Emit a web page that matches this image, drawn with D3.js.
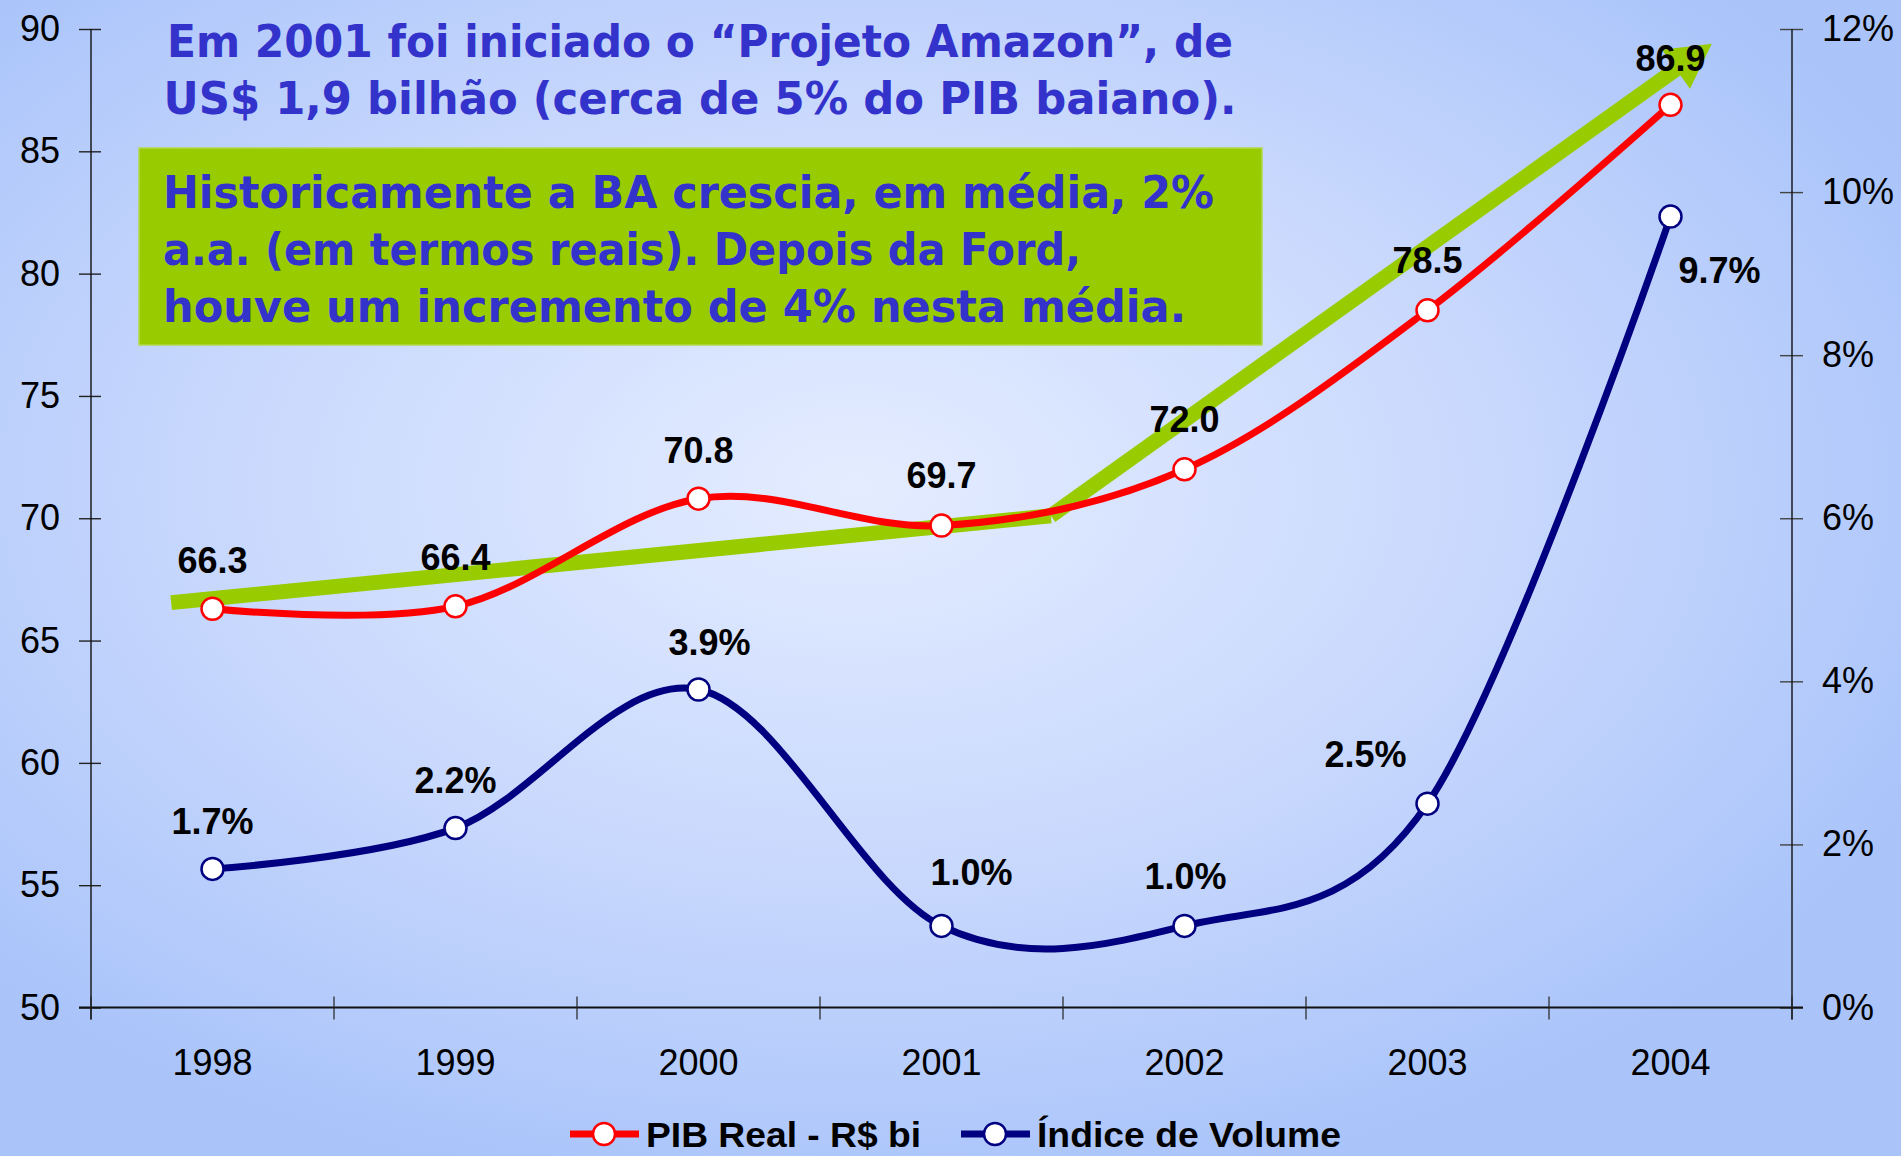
<!DOCTYPE html>
<html>
<head>
<meta charset="utf-8">
<script src="https://cdn.jsdelivr.net/npm/d3@7"></script>
<style>
  html, body { margin: 0; padding: 0; overflow: hidden; }
  svg { display: block; }
</style>
</head>
<body>
<script>
// ---------------- DATA ----------------
const years = ["1998", "1999", "2000", "2001", "2002", "2003", "2004"];
const pibValues = [66.3, 66.4, 70.8, 69.7, 72.0, 78.5, 86.9];          // R$ bi (left axis)
const volumeValues = [1.7, 2.2, 3.9, 1.0, 1.0, 2.5, 9.7];               // % (right axis)
const pibLabels = ["66.3", "66.4", "70.8", "69.7", "72.0", "78.5", "86.9"];
const volumeLabels = ["1.7%", "2.2%", "3.9%", "1.0%", "1.0%", "2.5%", "9.7%"];
const leftTicks = [50, 55, 60, 65, 70, 75, 80, 85, 90];
const rightTicks = [0, 2, 4, 6, 8, 10, 12];
const rightTickLabels = ["0%", "2%", "4%", "6%", "8%", "10%", "12%"];
const seriesNames = ["PIB Real - R$ bi", "Índice de Volume"];
// trend arrow (category index, left-axis value)
const trendIndex = [-0.17, 3.45, 6.17];
const trendValue = [66.55, 70.1, 89.4];
const titleLines = ["Em 2001 foi iniciado o “Projeto Amazon”, de",
                    "US$ 1,9 bilhão (cerca de 5% do PIB baiano)."];
const boxLines = ["Historicamente a BA crescia, em média, 2%",
                  "a.a. (em termos reais). Depois da Ford,",
                  "houve um incremento de 4% nesta média."];

// ---------------- LAYOUT ----------------
const W = 1901, H = 1156;
const X0 = 91, X1 = 1792, Y0 = 1007.5, Y1 = 29;
// label offsets (text centre relative to marker)
const pibLabelOffsets = [[0,-49],[0,-49],[0,-49],[0,-51],[0,-50],[0,-50],[0,-47]];
const volLabelOffsets = [[0,-48],[0,-48],[11,-47],[30,-54],[1,-50],[-62,-50],[49,53]];

const svg = d3.select("body").append("svg").attr("width", W).attr("height", H);

const defs = svg.append("defs");
const grad = defs.append("radialGradient").attr("id", "bg")
  .attr("cx", "45%").attr("cy", "42%").attr("r", "62%");
grad.append("stop").attr("offset", "0").attr("stop-color", "#E4ECFF");
grad.append("stop").attr("offset", "0.55").attr("stop-color", "#C8D8FD");
grad.append("stop").attr("offset", "1").attr("stop-color", "#AAC4FA");
svg.append("rect").attr("width", W).attr("height", H).attr("fill", "url(#bg)");

// scales
const x = d3.scaleBand().domain(years).range([X0, X1]).padding(0);
const xc = d => x(d) + x.bandwidth() / 2;
const xi = d3.scaleLinear().domain([-0.5, years.length - 0.5]).range([X0, X1]);
const yL = d3.scaleLinear().domain([50, 90]).range([Y0, Y1]);
const yR = d3.scaleLinear().domain([0, 12]).range([Y0, Y1]);

const axisFont = "'Liberation Sans', Arial, sans-serif";

// ---- left axis
const gL = svg.append("g").attr("transform", `translate(${X0},0)`)
  .call(d3.axisLeft(yL).tickValues(leftTicks).tickSize(12).tickSizeOuter(0).tickPadding(18));
gL.select(".domain").remove();
gL.selectAll(".tick line").attr("x1", -12).attr("x2", 10).attr("stroke", "#222").attr("stroke-width", 1.4);
gL.selectAll(".tick text").attr("x", -31).attr("font-family", axisFont).attr("font-size", 36).attr("fill", "#000");
svg.append("line").attr("x1", X0).attr("x2", X0).attr("y1", Y1).attr("y2", Y0 + 12)
  .attr("stroke", "#111").attr("stroke-width", 1.4);

// ---- right axis
const gR = svg.append("g").attr("transform", `translate(${X1},0)`)
  .call(d3.axisRight(yR).tickValues(rightTicks).tickFormat((d, i) => rightTickLabels[i]).tickSize(12).tickSizeOuter(0));
gR.select(".domain").remove();
gR.selectAll(".tick line").attr("x1", -12).attr("x2", 11).attr("stroke", "#444").attr("stroke-width", 1.4);
gR.selectAll(".tick text").attr("x", 30).attr("font-family", axisFont).attr("font-size", 36).attr("fill", "#000");
svg.append("line").attr("x1", X1).attr("x2", X1).attr("y1", Y1).attr("y2", Y0 + 12)
  .attr("stroke", "#111").attr("stroke-width", 1.4);

// ---- x axis
const gX = svg.append("g").attr("transform", `translate(0,${Y0})`)
  .call(d3.axisBottom(x).tickSize(0).tickPadding(0));
gX.select(".domain").remove();
gX.selectAll(".tick text").attr("y", 67).attr("dy", 0)
  .attr("font-family", axisFont).attr("font-size", 36).attr("fill", "#000");
svg.append("line").attr("x1", X0 - 12).attr("x2", X1 + 11).attr("y1", Y0).attr("y2", Y0)
  .attr("stroke", "#111").attr("stroke-width", 2);
const bounds = years.map(y => x(y)).concat([X1]);
svg.append("g").selectAll("line").data(bounds).join("line")
  .attr("x1", d => d).attr("x2", d => d).attr("y1", Y0 - 11).attr("y2", Y0 + 12)
  .attr("stroke", "#222").attr("stroke-width", 1.2);

// ---- green info box
svg.append("rect").attr("x", 139).attr("y", 148).attr("width", 1123).attr("height", 197)
  .attr("fill", "#99CC00").attr("stroke", "#B2D84A").attr("stroke-width", 1.5);

const titleFont = "'DejaVu Sans', Verdana, sans-serif";
const titleLens = [1066, 1073];
svg.append("g").selectAll("text").data(titleLines).join("text")
  .attr("x", 700).attr("y", (d, i) => 57 + i * 57)
  .attr("text-anchor", "middle")
  .attr("font-family", titleFont).attr("font-weight", "bold").attr("font-size", 44)
  .attr("fill", "#3333CC")
  .attr("textLength", (d, i) => titleLens[i]).attr("lengthAdjust", "spacingAndGlyphs")
  .text(d => d);

const boxLens = [1051, 918, 1023];
svg.append("g").selectAll("text").data(boxLines).join("text")
  .attr("x", 163).attr("y", (d, i) => 208 + i * 57)
  .attr("font-family", titleFont).attr("font-weight", "bold").attr("font-size", 45)
  .attr("fill", "#3333CC")
  .attr("textLength", (d, i) => boxLens[i]).attr("lengthAdjust", "spacingAndGlyphs")
  .text(d => d);

// ---- trend arrow
const tp = trendIndex.map((t, i) => [xi(t), yL(trendValue[i])]);
const arrowG = svg.append("g");
arrowG.append("line")
  .attr("x1", tp[0][0]).attr("y1", tp[0][1]).attr("x2", tp[1][0]).attr("y2", tp[1][1])
  .attr("stroke", "#99CC00").attr("stroke-width", 15).attr("stroke-linecap", "butt");
{
  const [ax, ay] = tp[1], [bx, by] = tp[2];
  const len = Math.hypot(bx - ax, by - ay);
  const ux = (bx - ax) / len, uy = (by - ay) / len;
  const nx = -uy, ny = ux;
  const L = 44, hw = 24;
  const cx = bx - L * ux, cy = by - L * uy;
  arrowG.append("line")
    .attr("x1", ax).attr("y1", ay).attr("x2", cx + 2 * ux).attr("y2", cy + 2 * uy)
    .attr("stroke", "#99CC00").attr("stroke-width", 15).attr("stroke-linecap", "butt");
  arrowG.append("path")
    .attr("d", `M${bx},${by} L${cx + hw * nx},${cy + hw * ny} L${cx - hw * nx},${cy - hw * ny} Z`)
    .attr("fill", "#99CC00");
}

// ---- lines
const curve = d3.curveCardinal.tension(0);
const pibLine = d3.line().x((d, i) => xc(years[i])).y(d => yL(d)).curve(curve);
const volLine = d3.line().x((d, i) => xc(years[i])).y(d => yR(d)).curve(curve);

svg.append("path").attr("d", volLine(volumeValues)).attr("fill", "none")
  .attr("stroke", "#000080").attr("stroke-width", 7).attr("stroke-linejoin", "round");
svg.append("path").attr("d", pibLine(pibValues)).attr("fill", "none")
  .attr("stroke", "#FF0000").attr("stroke-width", 7).attr("stroke-linejoin", "round");

svg.append("g").selectAll("circle").data(volumeValues).join("circle")
  .attr("cx", (d, i) => xc(years[i])).attr("cy", d => yR(d)).attr("r", 11)
  .attr("fill", "#fff").attr("stroke", "#000080").attr("stroke-width", 2.5);
svg.append("g").selectAll("circle").data(pibValues).join("circle")
  .attr("cx", (d, i) => xc(years[i])).attr("cy", d => yL(d)).attr("r", 11)
  .attr("fill", "#fff").attr("stroke", "#FF0000").attr("stroke-width", 2.5);

// ---- data labels
const labelFont = "'Liberation Sans', Arial, sans-serif";
svg.append("g").selectAll("text").data(pibValues).join("text")
  .attr("x", (d, i) => xc(years[i]) + pibLabelOffsets[i][0])
  .attr("y", (d, i) => yL(d) + pibLabelOffsets[i][1] + 13)
  .attr("text-anchor", "middle").attr("font-family", labelFont).attr("font-weight", "bold")
  .attr("font-size", 36).attr("fill", "#000").text((d, i) => pibLabels[i]);
svg.append("g").selectAll("text").data(volumeValues).join("text")
  .attr("x", (d, i) => xc(years[i]) + volLabelOffsets[i][0])
  .attr("y", (d, i) => yR(d) + volLabelOffsets[i][1] + 13)
  .attr("text-anchor", "middle").attr("font-family", labelFont).attr("font-weight", "bold")
  .attr("font-size", 36).attr("fill", "#000").text((d, i) => volumeLabels[i]);

// ---- legend
const legendItems = [
  { name: seriesNames[0], color: "#FF0000", x: 570, len: 275 },
  { name: seriesNames[1], color: "#000080", x: 961, len: 304 }
];
const lg = svg.append("g").selectAll("g").data(legendItems).join("g")
  .attr("transform", d => `translate(${d.x},1134)`);
lg.append("line").attr("x1", 0).attr("x2", 69).attr("y1", 0).attr("y2", 0)
  .attr("stroke", d => d.color).attr("stroke-width", 7);
lg.append("circle").attr("cx", 34).attr("cy", 0).attr("r", 11)
  .attr("fill", "#fff").attr("stroke", d => d.color).attr("stroke-width", 2.5);
lg.append("text").attr("x", 76).attr("y", 13)
  .attr("font-family", labelFont).attr("font-weight", "bold").attr("font-size", 35)
  .attr("textLength", d => d.len).attr("lengthAdjust", "spacingAndGlyphs")
  .attr("fill", "#000").text(d => d.name);
</script>
</body>
</html>
